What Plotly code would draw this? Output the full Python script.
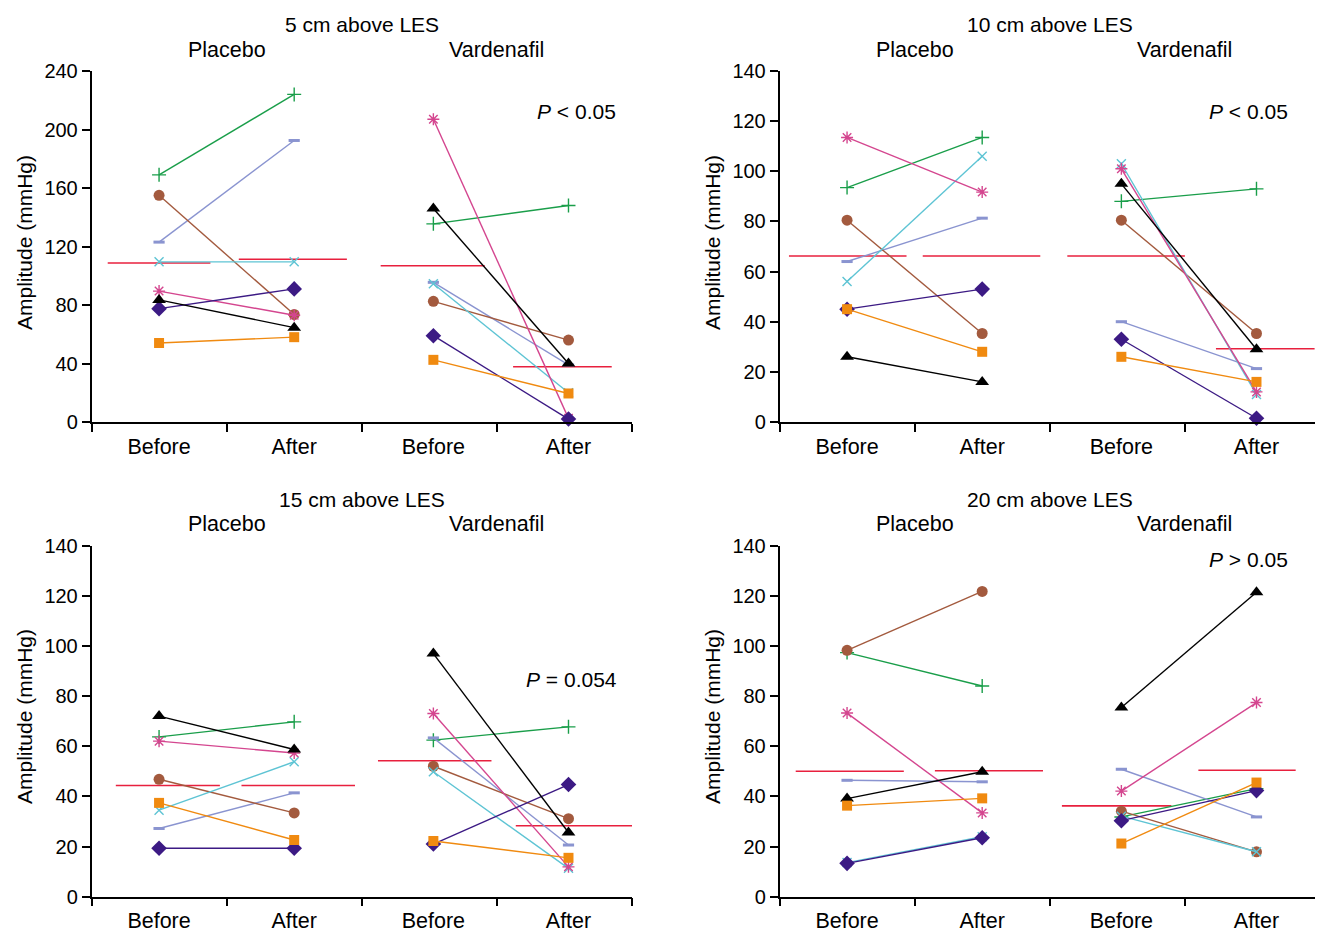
import plotly.graph_objects as go

# ---------------- data ----------------
categories = ["Before", "After", "Before", "After"]
groups = ["Placebo", "Vardenafil"]
panel_titles = ["5 cm above LES", "10 cm above LES", "15 cm above LES", "20 cm above LES"]
p_texts = ["<i>P</i> &lt; 0.05", "<i>P</i> &lt; 0.05", "<i>P</i> = 0.054", "<i>P</i> &gt; 0.05"]
y_ticks_5cm = [0, 40, 80, 120, 160, 200, 240]
y_ticks_other = [0, 20, 40, 60, 80, 100, 120, 140]

# subject order: green, periwinkle, brown, cyan, pink, purple, black, orange
subjects = ["S1", "S2", "S3", "S4", "S5", "S6", "S7", "S8"]

cm5_placebo_before = [169, 123, 155, 109.5, 89.5, 77.5, 83.5, 54]
cm5_placebo_after = [224, 192.5, 73.5, 109.5, 73, 91, 64.5, 58]
cm5_vard_before = [135.5, 95.5, 82.5, 94.5, 207, 59, 146, 42.5]
cm5_vard_after = [148, 39, 56, 20, 2.5, 2, 40, 19.5]

cm10_placebo_before = [93.5, 64, 80.5, 56, 113.5, 45, 26, 45]
cm10_placebo_after = [113.5, 81.3, 35.3, 106, 91.7, 53, 16, 28]
cm10_vard_before = [88, 40, 80.5, 103, 101, 33, 95, 26]
cm10_vard_after = [93, 21.3, 35.3, 11, 12, 1.5, 29, 16]

cm15_placebo_before = [63.7, 27.2, 46.8, 34.5, 62, 19.3, 72, 37.4]
cm15_placebo_after = [69.7, 41.4, 33.4, 53.8, 57.3, 19.3, 58.7, 22.6]
cm15_vard_before = [62.4, 63.3, 52, 49.8, 73, 21, 96.9, 22.2]
cm15_vard_after = [67.7, 20.6, 31.1, 11.3, 11.9, 44.7, 25.6, 15.5]

cm20_placebo_before = [97.3, 46.4, 98.2, 13.6, 73.2, 13.3, 39.1, 36.3]
cm20_placebo_after = [84, 45.8, 121.7, 23.9, 33.4, 23.5, 49.8, 39.2]
cm20_vard_before = [31.8, 50.8, 34.1, 32.1, 42.1, 30.3, 75.4, 21.2]
cm20_vard_after = [43.1, 31.8, 17.9, 17.9, 77.4, 42.3, 121.4, 45.5]

# group means: placebo before, placebo after, vardenafil before, vardenafil after
cm5_means = [108.7, 111.3, 106.8, 37.8]
cm10_means = [66.2, 66.2, 66.2, 29.2]
cm15_means = [44.3, 44.3, 54.2, 28.3]
cm20_means = [50, 50.2, 36.2, 50.4]

# ---------------- styles / layout ----------------
colors = ["#1a9e4a", "#8a94d0", "#a35a3e", "#5ec4d4", "#d4468f", "#3c1a84", "#000000", "#f08a10"]
symbols = ["cross-thin", "line-ew", "circle", "x-thin", "asterisk", "diamond", "triangle-up", "square"]
sizes = [10, 8, 11, 9, 10, 12, 12, 10]
open_syms = {"cross-thin", "line-ew", "x-thin", "asterisk"}
mean_color = "#e8203e"
FONT = "Liberation Sans, Arial, sans-serif"

panels = [
    dict(pb=cm5_placebo_before, pa=cm5_placebo_after, vb=cm5_vard_before, va=cm5_vard_after,
         means=cm5_means, ticks=y_ticks_5cm, ymax=240,
         seg=[(0.12, 0.88), (1.09, 1.89), (2.14, 2.91), (3.12, 3.85)], p=(3.59, 212)),
    dict(pb=cm10_placebo_before, pa=cm10_placebo_after, vb=cm10_vard_before, va=cm10_vard_after,
         means=cm10_means, ticks=y_ticks_other, ymax=140,
         seg=[(0.07, 0.94), (1.06, 1.93), (2.13, 3.0), (3.23, 3.96)], p=(3.47, 123.7)),
    dict(pb=cm15_placebo_before, pa=cm15_placebo_after, vb=cm15_vard_before, va=cm15_vard_after,
         means=cm15_means, ticks=y_ticks_other, ymax=140,
         seg=[(0.18, 0.95), (1.11, 1.95), (2.12, 2.96), (3.14, 4.03)], p=(3.55, 86.5)),
    dict(pb=cm20_placebo_before, pa=cm20_placebo_after, vb=cm20_vard_before, va=cm20_vard_after,
         means=cm20_means, ticks=y_ticks_other, ymax=140,
         seg=[(0.12, 0.92), (1.15, 1.95), (2.09, 2.9), (3.1, 3.82)], p=(3.47, 134.4)),
]

W, H = 1323, 931
OFF = 8  # page body margin in the browser


def px_x(p):
    return (p - OFF) / W


def px_y(p):
    return 1 - (p - OFF) / H


xdoms = [[px_x(91.5), px_x(632)], [px_x(779.5), px_x(1320)]]
ydoms = [[px_y(422), px_y(71)], [px_y(896.7), px_y(545.5)]]
xpos = [0.5, 1.5, 2.53, 3.53]

fig = go.Figure()
annotations = []
layout_axes = {}

for i, pn in enumerate(panels):
    col = i % 2
    row = i // 2
    n = i + 1
    xa = "x" if n == 1 else f"x{n}"
    ya = "y" if n == 1 else f"y{n}"
    xkey = "xaxis" if n == 1 else f"xaxis{n}"
    ykey = "yaxis" if n == 1 else f"yaxis{n}"

    # mean lines
    for k in range(4):
        a, b = pn["seg"][k]
        fig.add_trace(go.Scatter(x=[a, b], y=[pn["means"][k]] * 2, mode="lines",
                                 line=dict(color=mean_color, width=1.6),
                                 xaxis=xa, yaxis=ya, showlegend=False, hoverinfo="skip",
                                 cliponaxis=False))
    # subjects
    for s in range(len(subjects)):
        c = colors[s]
        sym = symbols[s]
        is_open = sym in open_syms
        marker = dict(symbol=sym, size=sizes[s], color=c,
                      line=dict(color=c, width=(3 if sym == "line-ew" else 1.4) if is_open else 0))
        fig.add_trace(go.Scatter(
            x=[xpos[0], xpos[1], None, xpos[2], xpos[3]],
            y=[pn["pb"][s], pn["pa"][s], None, pn["vb"][s], pn["va"][s]],
            mode="lines+markers", line=dict(color=c, width=1.4), marker=marker,
            xaxis=xa, yaxis=ya, showlegend=False, name=subjects[s], cliponaxis=False))

    layout_axes[xkey] = dict(
        domain=xdoms[col], anchor=ya, range=[0, 4], showgrid=False, zeroline=False,
        showline=True, linecolor="black", linewidth=1.5, automargin=False,
        tickmode="array", tickvals=xpos, ticktext=categories, ticks="",
        ticklabelstandoff=4,
        tickfont=dict(family=FONT, size=21.5, color="black"),
        minor=dict(tickvals=[0, 1, 2, 3, 4], ticks="outside", ticklen=8,
                   tickwidth=1.5, tickcolor="black", showgrid=False),
        fixedrange=True)
    layout_axes[ykey] = dict(
        domain=ydoms[row], anchor=xa, range=[0, pn["ymax"]], showgrid=False, zeroline=False,
        showline=True, linecolor="black", linewidth=1.5, automargin=False,
        tickmode="array", tickvals=pn["ticks"], ticks="outside", ticklen=8,
        tickwidth=1.5, tickcolor="black",
        tickfont=dict(family=FONT, size=20, color="black"), fixedrange=True)

    top = px_y(25 if row == 0 else 499)
    sub = px_y(50 if row == 0 else 524)
    annotations.append(dict(text=panel_titles[i], xref=xa, yref="paper", x=2, y=top,
                            showarrow=False, font=dict(family=FONT, size=21, color="black"),
                            xanchor="center", yanchor="middle"))
    for g, gx in zip(groups, [1, 3]):
        annotations.append(dict(text=g, xref=xa, yref="paper", x=gx, y=sub,
                                showarrow=False, font=dict(family=FONT, size=21.5, color="black"),
                                xanchor="center", yanchor="middle"))
    annotations.append(dict(text=p_texts[i], xref=xa, yref=ya, x=pn["p"][0], y=pn["p"][1],
                            showarrow=False, font=dict(family=FONT, size=21, color="black"),
                            xanchor="center", yanchor="middle"))
    ytitle_x = px_x(24 if col == 0 else 712)
    ymid = px_y(243 if row == 0 else 717)
    annotations.append(dict(text="Amplitude (mmHg)", xref="paper", yref="paper",
                            x=ytitle_x, y=ymid, textangle=-90, showarrow=False,
                            font=dict(family=FONT, size=21, color="black"),
                            xanchor="center", yanchor="middle"))

fig.update_layout(
    width=W, height=H, margin=dict(l=0, r=0, t=0, b=0, autoexpand=False),
    paper_bgcolor="white", plot_bgcolor="white",
    annotations=annotations, **layout_axes)

fig.write_html("out.html")
